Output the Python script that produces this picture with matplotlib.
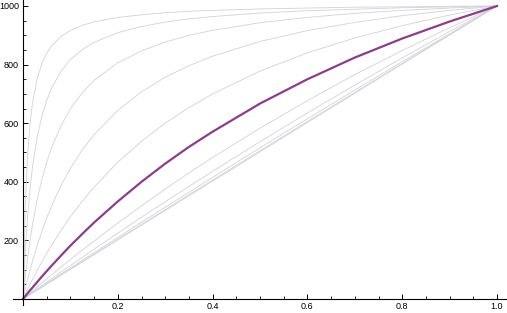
import matplotlib
matplotlib.use("Agg")
import matplotlib.pyplot as plt
from matplotlib.ticker import FixedLocator

# sample positions along x (values at these x)
x = [0, 0.005, 0.01, 0.015, 0.02, 0.03, 0.04, 0.05, 0.06, 0.08, 0.1, 0.125,
     0.15, 0.2, 0.25, 0.3, 0.35, 0.4, 0.5, 0.6, 0.7, 0.8, 0.9, 1.0]

# thin grey curves, steepest first
grey_curves = [
    [0, 331, 499, 600, 668, 753, 804, 839, 863, 896, 916, 934,
     946, 961, 970, 977, 982, 985, 990, 993, 996, 997, 999, 1000],
    [0, 168, 288, 379, 450, 553, 625, 678, 719, 777, 817, 851,
     876, 909, 930, 945, 956, 964, 976, 984, 989, 994, 997, 1000],
    [0, 77, 144, 202, 253, 340, 409, 467, 515, 591, 649, 704,
     746, 806, 847, 877, 900, 917, 943, 961, 975, 985, 993, 1000],
    [0, 35, 68, 99, 129, 183, 232, 276, 316, 387, 446, 509,
     561, 644, 707, 757, 796, 829, 879, 916, 944, 967, 985, 1000],
    [0, 17, 34, 51, 67, 98, 127, 156, 183, 233, 280, 333,
     382, 467, 538, 600, 653, 700, 778, 840, 891, 933, 969, 1000],
    [0, 7, 14, 21, 28, 42, 55, 69, 82, 109, 135, 167,
     198, 259, 318, 375, 430, 483, 583, 677, 766, 848, 926, 1000],
    [0, 6, 12, 17, 23, 35, 46, 58, 69, 92, 114, 142,
     170, 225, 279, 332, 384, 436, 537, 635, 730, 823, 913, 1000],
    [0, 5, 11, 16, 21, 32, 42, 53, 64, 85, 106, 132,
     158, 210, 262, 313, 364, 415, 516, 615, 713, 810, 905, 1000],
    [0, 5, 10, 15, 21, 31, 41, 51, 61, 82, 102, 128,
     153, 204, 255, 305, 356, 406, 506, 606, 705, 804, 902, 1000],
    [0, 5, 10, 15, 20, 30, 40, 51, 61, 81, 101, 126,
     151, 202, 252, 302, 352, 402, 502, 602, 702, 802, 901, 1000],
]

# the thick purple curve
purple_curve = [0, 10, 20, 30, 39, 58, 77, 95, 113, 148, 182, 222,
                261, 333, 400, 462, 519, 571, 667, 750, 824, 889, 947, 1000]

x_major = [0.2, 0.4, 0.6, 0.8, 1.0]
x_labels = ["0.2", "0.4", "0.6", "0.8", "1.0"]
x_minor = [i * 0.05 for i in range(1, 21)]
y_major = [200, 400, 600, 800, 1000]
y_labels = ["200", "400", "600", "800", "1000"]
y_minor = [i * 50 for i in range(1, 21)]

W, H = 507, 313
fig = plt.figure(figsize=(W / 100, H / 100), dpi=100)
# axes box in pixels: left 13, right 507, top 0, bottom 305
ax = fig.add_axes([13 / W, (H - 305) / H, (W - 13) / W, 305 / H])
ax.set_xlim(-10 / 474, 1 + 10 / 474)
ax.set_ylim(-6 / 0.293, 1000 + 6 / 0.293)

for ys in grey_curves:
    ax.plot(x, ys, color="#d2d2d8", lw=0.6, clip_on=False,
            solid_joinstyle="round")
ax.plot(x, purple_curve, color="#8a3f8a", lw=1.6, clip_on=False,
        solid_joinstyle="round")

for s in ["top", "right"]:
    ax.spines[s].set_visible(False)
ax.spines["left"].set_position(("data", 0))
ax.spines["bottom"].set_position(("data", 0))
ax.spines["left"].set_linewidth(0.8)
ax.spines["bottom"].set_linewidth(0.8)

ax.xaxis.set_major_locator(FixedLocator(x_major))
ax.xaxis.set_minor_locator(FixedLocator(x_minor))
ax.set_xticklabels(x_labels)
ax.yaxis.set_major_locator(FixedLocator(y_major))
ax.yaxis.set_minor_locator(FixedLocator(y_minor))
ax.set_yticklabels(y_labels)

ax.tick_params(which="major", direction="in", length=3.5, width=0.7,
               labelsize=6.5, pad=2)
ax.tick_params(which="minor", direction="in", length=2, width=0.6)
ax.tick_params(axis="y", which="major", pad=3)
for lab in ax.get_xticklabels() + ax.get_yticklabels():
    lab.set_family("Liberation Sans")

fig.savefig("out.png", dpi=100)
